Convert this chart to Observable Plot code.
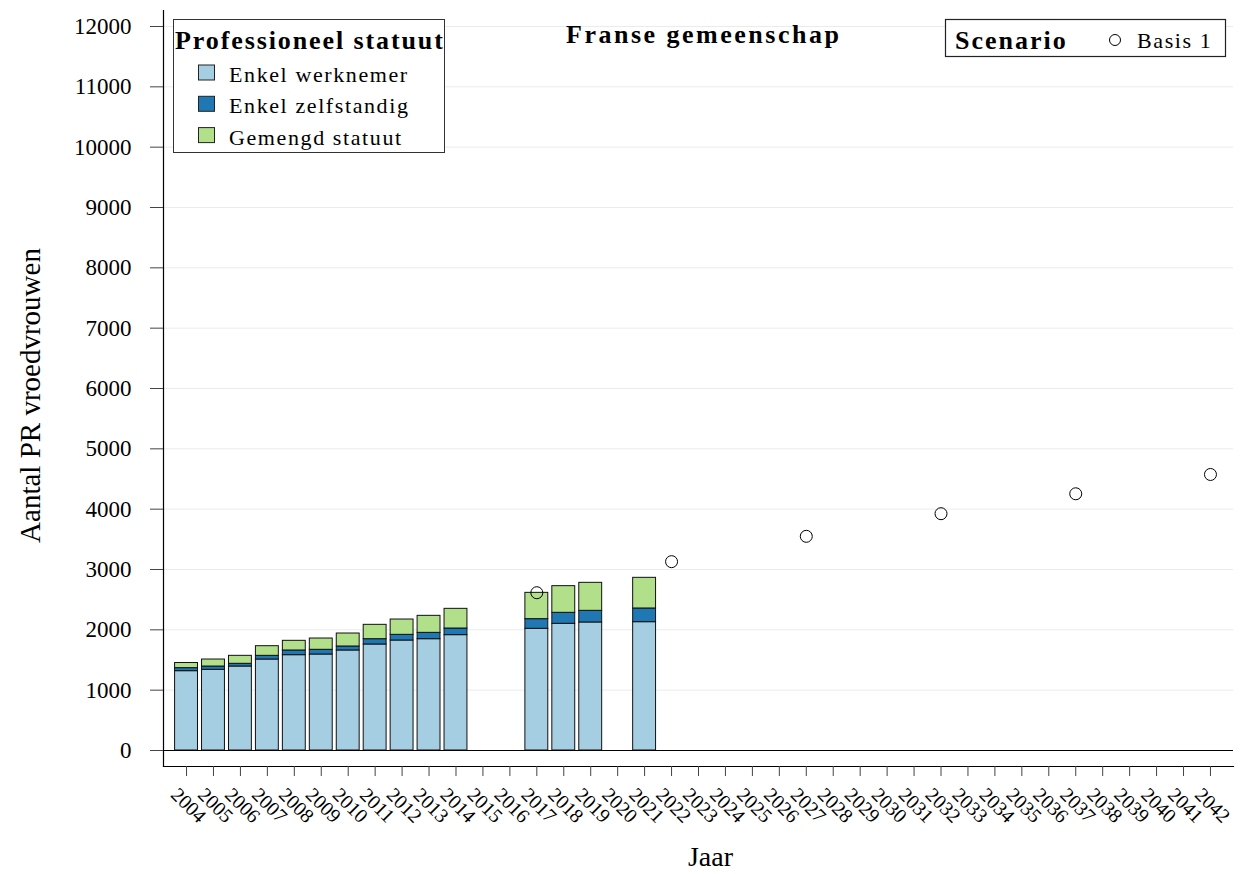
<!DOCTYPE html>
<html>
<head>
<meta charset="utf-8">
<script src="https://cdn.jsdelivr.net/npm/d3@7"></script>
<script src="https://cdn.jsdelivr.net/npm/@observablehq/plot@0.6"></script>
<style>
  body { margin: 0; background: #fff; }
  #chart { width: 1244px; height: 874px; }
  #chart svg { font-family: "Liberation Serif", "Times New Roman", serif; }
</style>
</head>
<body>
<div id="chart"></div>
<script>
// ---- data ----
const axisYears = [2004,2005,2006,2007,2008,2009,2010,2011,2012,2013,2014,2015,2016,2017,2018,2019,2020,2021,2022,2023,2024,2025,2026,2027,2028,2029,2030,2031,2032,2033,2034,2035,2036,2037,2038,2039,2040,2041,2042];
const barYears    = [2004,2005,2006,2007,2008,2009,2010,2011,2012,2013,2014,2017,2018,2019,2021];
const werknemer   = [1315,1337,1392,1508,1580,1591,1658,1757,1823,1845,1912,2017,2100,2122,2127];
const zelfstandig = [50,55,45,61,78,78,66,88,94,105,110,160,182,193,227];
const gemengd     = [85,116,132,160,160,187,215,238,254,282,326,436,442,464,508];
const statuutCats = ["Enkel werknemer", "Enkel zelfstandig", "Gemengd statuut"];
const statuutColors = ["#a6cee3", "#1f78b4", "#b2df8a"];
const scenarioYears = [2017,2022,2027,2032,2037,2042];
const basis1        = [2615,3130,3550,3925,4255,4575];
const yTicks = [0,1000,2000,3000,4000,5000,6000,7000,8000,9000,10000,11000,12000];
const chartTitle = "Franse gemeenschap";
const xTitle = "Jaar";
const yTitle = "Aantal PR vroedvrouwen";
const legendTitle = "Professioneel statuut";
const scenarioTitle = "Scenario";
const scenarioName = "Basis 1";

// ---- tables ----
const series = [werknemer, zelfstandig, gemengd];
const rows = [];
barYears.forEach((yr, i) => {
  statuutCats.forEach((s, k) => rows.push({year: yr, statuut: s, value: series[k][i]}));
});
const points = scenarioYears.map((yr, i) => ({year: yr, value: basis1[i]}));

const plot = Plot.plot({
  width: 1244,
  height: 874,
  marginTop: 10,
  marginBottom: 108,
  marginLeft: 163,
  marginRight: 11,
  insetTop: 16,
  insetBottom: 16,
  style: {background: "white", color: "black", fontFamily: "Liberation Serif, Times New Roman, serif"},
  x: {type: "band", domain: axisYears, paddingInner: 0.15, paddingOuter: 0.43},
  y: {domain: [0, 12000]},
  color: {domain: statuutCats, range: statuutColors},
  marks: [
    Plot.gridY(yTicks.filter(d => d > 0), {stroke: "#ebebeb", strokeOpacity: 1, strokeWidth: 1}),
    Plot.barY(rows, {x: "year", y: "value", fill: "statuut", stroke: "#111", strokeWidth: 1}),
    Plot.ruleY([0], {stroke: "black", strokeWidth: 1.2}),
    Plot.dot(points, {x: "year", y: "value", r: 6, stroke: "black", fill: "none", strokeWidth: 1}),
    Plot.frame({anchor: "left", stroke: "black", strokeWidth: 1.2}),
    Plot.frame({anchor: "bottom", stroke: "black", strokeWidth: 1.2}),
    Plot.axisY(yTicks, {tickSize: 13, tickPadding: 19, fontSize: 23, label: null, stroke: "#444", tickFormat: d => String(d)}),
    Plot.axisX(axisYears, {tickSize: 10, tickFormat: () => "", label: null, stroke: "#444"}),
    Plot.text(axisYears, {x: d => d, text: d => String(d), frameAnchor: "bottom", dx: 2, dy: 39, rotate: 45,
      fontSize: 20, textAnchor: "middle", lineAnchor: "middle", fill: "black"}),
    Plot.text([xTitle], {text: d => d, frameAnchor: "bottom", dy: 91, dx: 12, fontSize: 28, textAnchor: "middle", lineAnchor: "middle", fill: "black"}),
    Plot.text([yTitle], {text: d => d, frameAnchor: "left", dx: -133, dy: 7, rotate: -90, fontSize: 29, textAnchor: "middle", lineAnchor: "middle", fill: "black"})
  ]
});
document.getElementById("chart").appendChild(plot);

// ---- title & legends drawn into the same SVG ----
const svg = d3.select(plot);
const ff = "Liberation Serif, Times New Roman, serif";

svg.append("text").attr("x", 566).attr("y", 43).attr("font-family", ff).attr("text-anchor", "start")
  .attr("font-size", 26).attr("font-weight", "bold").attr("letter-spacing", 2.5)
  .attr("fill", "black").text(chartTitle);

// Professioneel statuut legend
svg.append("clipPath").attr("id", "legclip").append("rect")
  .attr("x", 173).attr("y", 19).attr("width", 272).attr("height", 134);
const lg = svg.append("g").attr("text-anchor", "start");
lg.append("rect").attr("x", 173.5).attr("y", 19.5).attr("width", 271).attr("height", 133)
  .attr("fill", "white").attr("stroke", "#333").attr("stroke-width", 1);
const lgc = lg.append("g").attr("clip-path", "url(#legclip)");
lgc.append("text").attr("x", 175).attr("y", 49).attr("font-family", ff).attr("font-size", 26)
  .attr("font-weight", "bold").attr("letter-spacing", 1.9).attr("fill", "black").text(legendTitle);
statuutCats.forEach((s, k) => {
  const cy = 72.5 + k * 31.3;
  lgc.append("rect").attr("x", 198.5).attr("y", cy - 7.5).attr("width", 16).attr("height", 15)
    .attr("fill", statuutColors[k]).attr("stroke", "#222").attr("stroke-width", 1);
  lgc.append("text").attr("x", 229).attr("y", cy + 9.5).attr("font-family", ff).attr("font-size", 22)
    .attr("letter-spacing", 1.6).attr("fill", "black").text(s);
});

// Scenario legend
const sg = svg.append("g").attr("text-anchor", "start");
sg.append("rect").attr("x", 945.5).attr("y", 19.5).attr("width", 280).attr("height", 37)
  .attr("fill", "white").attr("stroke", "#222").attr("stroke-width", 1.2);
sg.append("text").attr("x", 955).attr("y", 49).attr("font-family", ff).attr("font-size", 26)
  .attr("font-weight", "bold").attr("letter-spacing", 2).attr("fill", "black").text(scenarioTitle);
sg.append("circle").attr("cx", 1115).attr("cy", 40).attr("r", 5.5)
  .attr("fill", "none").attr("stroke", "black").attr("stroke-width", 1);
sg.append("text").attr("x", 1137).attr("y", 48).attr("font-family", ff).attr("font-size", 22)
  .attr("letter-spacing", 1.6).attr("fill", "black").text(scenarioName);
</script>
</body>
</html>
